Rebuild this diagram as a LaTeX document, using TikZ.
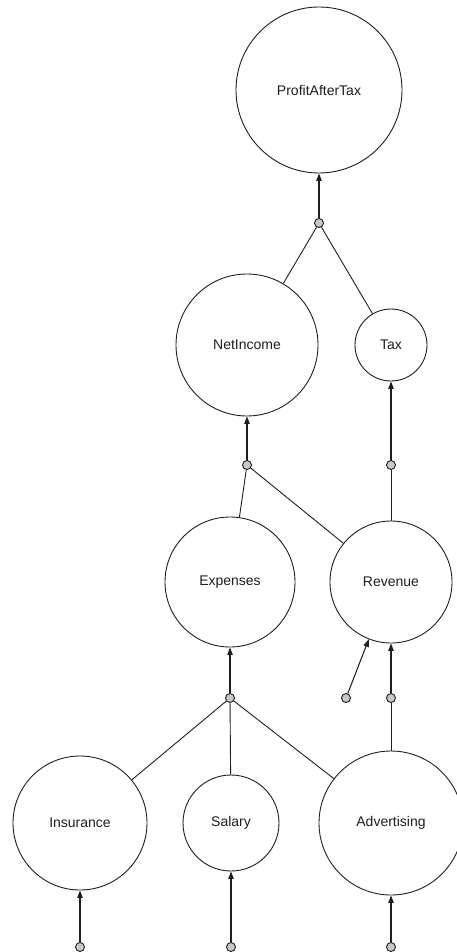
\documentclass[tikz,border=0pt]{standalone}
\usepackage{fontspec}
\setmainfont{Liberation Sans}
\usetikzlibrary{arrows.meta}

\definecolor{inkline}{RGB}{30,30,30}
\definecolor{junctionfill}{RGB}{200,200,200}

\tikzset{
  var/.style={circle, draw=inkline, line width=0.9pt, inner sep=0pt,
              font=\fontsize{14}{16}\selectfont, text=inkline},
  junction/.style={circle, draw=inkline, fill=junctionfill, line width=0.9pt,
                   minimum size=9pt, inner sep=0pt},
  link/.style={draw=inkline, line width=0.9pt},
  feed/.style={draw=inkline, line width=1.05pt, -{Triangle[length=7.5pt,width=5.5pt]}}
}

\begin{document}
\begin{tikzpicture}[x=1pt, y=-1pt]
  \useasboundingbox (0,0) rectangle (456,952);

  % variables
  \node[var, minimum size=166pt] (pat) at (319,90)  {ProfitAfterTax};
  \node[var, minimum size=142pt] (net) at (247,345) {NetIncome};
  \node[var, minimum size=72pt]  (tax) at (391,345) {Tax};
  \node[var, minimum size=130pt] (exp) at (230,582) {Expenses};
  \node[var, minimum size=122pt] (rev) at (391,582) {Revenue};
  \node[var, minimum size=134pt] (ins) at (80,823)  {Insurance};
  \node[var, minimum size=96pt]  (sal) at (231,823) {Salary};
  \node[var, minimum size=144pt] (adv) at (391,823) {Advertising};

  % junction points
  \node[junction] (jpat) at (319,223) {};
  \node[junction] (jnet) at (247,465) {};
  \node[junction] (jtax) at (391,465) {};
  \node[junction] (jexp) at (230,698) {};
  \node[junction] (jrva) at (346,698) {};
  \node[junction] (jrvb) at (391,698) {};
  \node[junction] (jins) at (80,947)  {};
  \node[junction] (jsal) at (231,947) {};
  \node[junction] (jadv) at (391,947) {};

  % contributions into junctions
  \draw[link] (jpat) -- (net);
  \draw[link] (jpat) -- (tax);
  \draw[link] (jnet) -- (exp);
  \draw[link] (jnet) -- (rev);
  \draw[link] (jtax) -- (rev);
  \draw[link] (jexp) -- (ins);
  \draw[link] (jexp) -- (sal);
  \draw[link] (jexp) -- (adv);
  \draw[link] (jrvb) -- (adv);

  % results out of junctions
  \draw[feed] (jpat) -- (pat);
  \draw[feed] (jnet) -- (net);
  \draw[feed] (jtax) -- (tax);
  \draw[feed] (jexp) -- (exp);
  \draw[feed] (jrva) -- (rev);
  \draw[feed] (jrvb) -- (rev);
  \draw[feed] (jins) -- (ins);
  \draw[feed] (jsal) -- (sal);
  \draw[feed] (jadv) -- (adv);
\end{tikzpicture}
\end{document}
